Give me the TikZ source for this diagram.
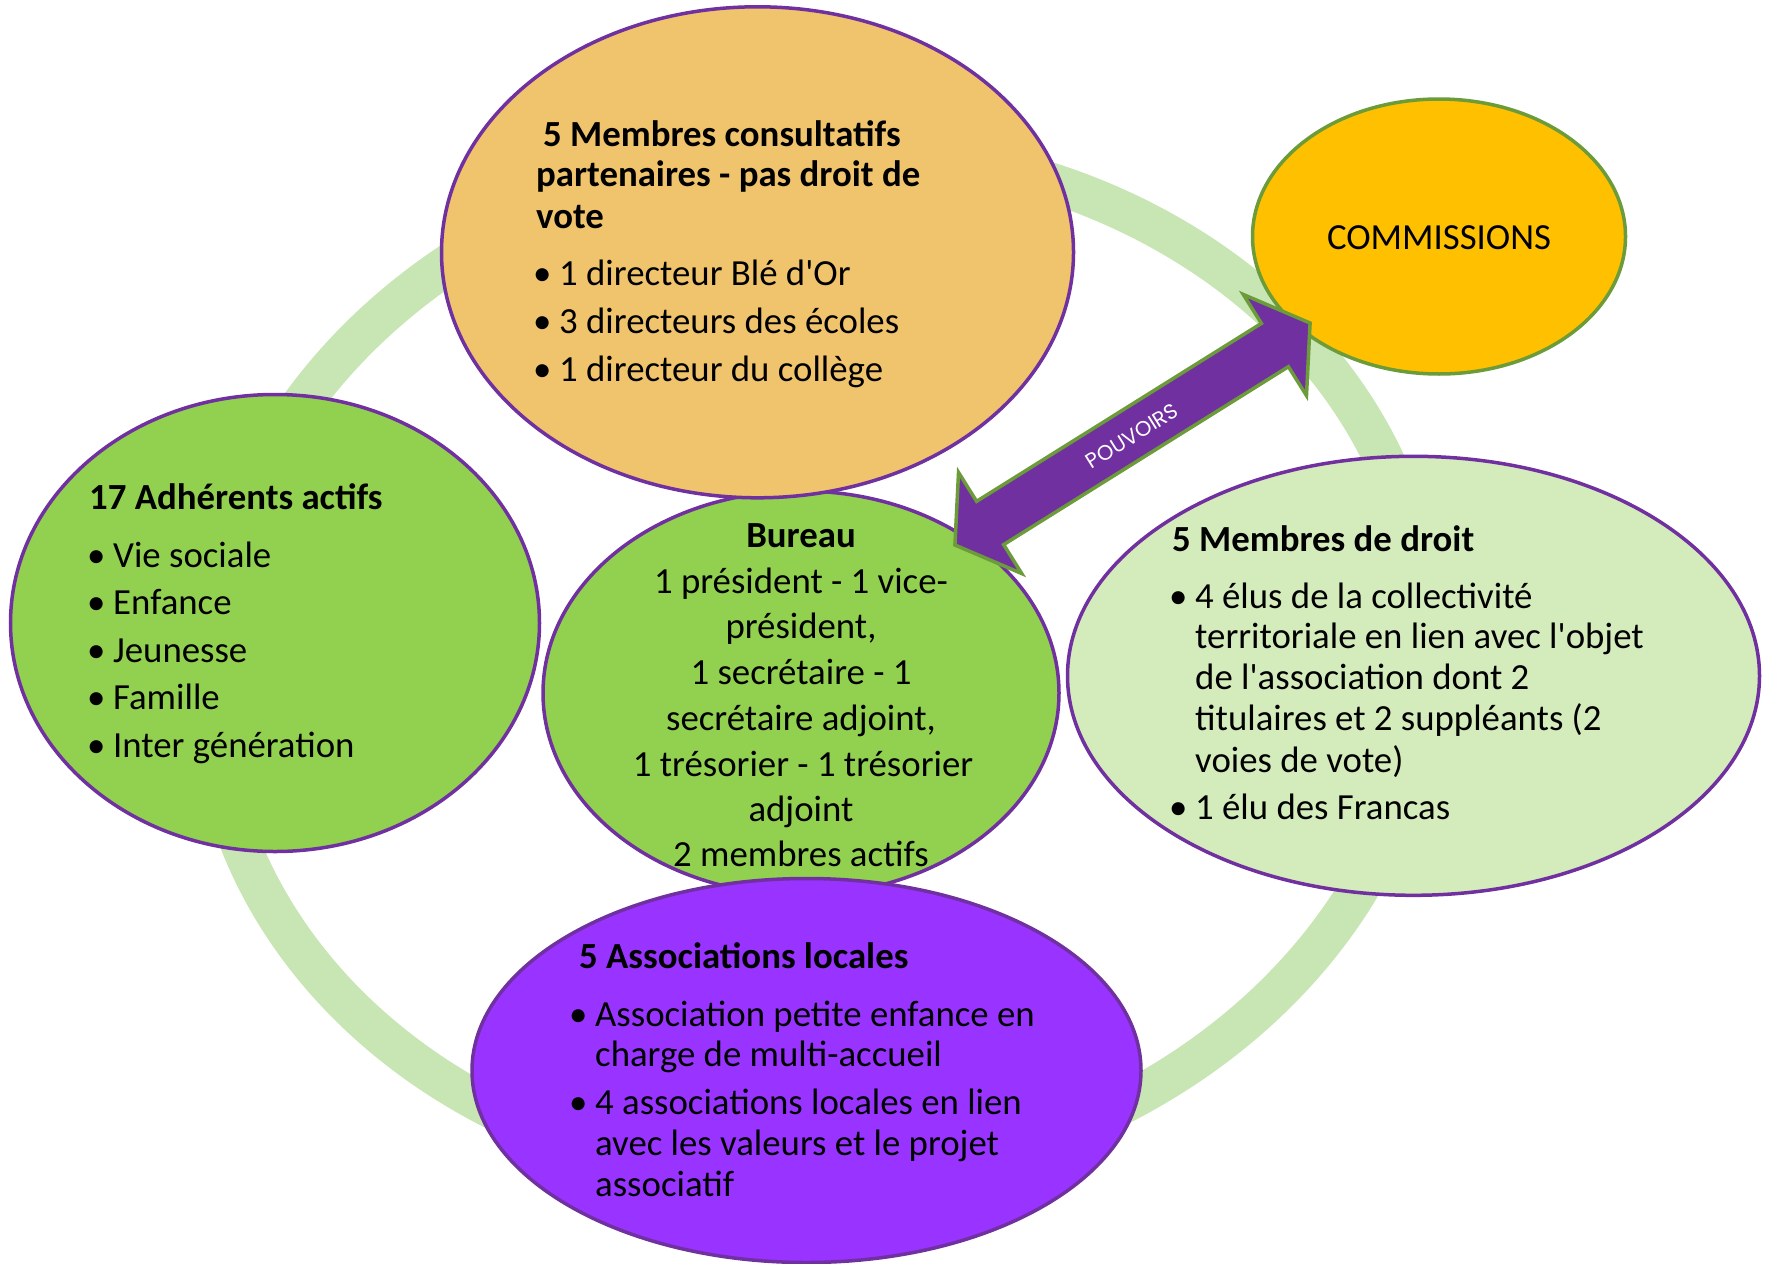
\documentclass[tikz,border=0pt]{standalone}
\usepackage{fontspec}
\setmainfont{Carlito}
\newfontfamily\pouvfont{Poppins}
\usetikzlibrary{shapes.geometric}

\definecolor{ringgreen}{HTML}{C8E5B4}
\definecolor{orangefill}{HTML}{F0C36D}
\definecolor{commfill}{HTML}{FFC000}
\definecolor{greenfill}{HTML}{92D050}
\definecolor{lightfill}{HTML}{D4EBBB}
\definecolor{violetfill}{HTML}{9933FF}
\definecolor{borderpurple}{HTML}{7030A0}
\definecolor{bordergreen}{HTML}{6C9B3A}

\newcommand\bul{\makebox[22pt][l]{\hspace*{-4pt}\textbullet}}
\newcommand\aq{\textquotesingle}

\begin{document}
\begin{tikzpicture}[x=1pt,y=-1pt,
  bubble/.style={ellipse, draw=borderpurple, line width=3.5pt, inner sep=0pt, outer sep=0pt},
  txt/.style={anchor=base west, inner sep=0pt, font=\fontsize{36.8}{44}\selectfont},
  tbold/.style={anchor=base west, inner sep=0pt, font=\fontsize{36.8}{44}\selectfont\bfseries},
  ctxt/.style={anchor=base, inner sep=0pt, font=\fontsize{36.8}{44}\selectfont},
  cbold/.style={anchor=base, inner sep=0pt, font=\fontsize{36.8}{44}\selectfont\bfseries},
  blockarrow/.style={fill=borderpurple, draw=bordergreen, line width=3.5pt, line join=miter},
]
\useasboundingbox (0,0) rectangle (1766,1263);

% ring
\draw[ringgreen, line width=40pt, rotate around={5:(818,665)}]
  (818,665) ellipse [x radius=610, y radius=515];

% bubbles
\node[bubble, fill=greenfill, minimum width=529pt, minimum height=457pt] (adh) at (275,623) {};
\node[bubble, fill=greenfill, minimum width=516pt, minimum height=404pt] (bur) at (801,693) {};
\node[bubble, fill=orangefill, minimum width=632pt, minimum height=491pt] (cons) at (757.5,252.3) {};
\node[bubble, fill=commfill, draw=bordergreen, minimum width=373pt, minimum height=275pt] (comm) at (1439,236.5) {};
\node[bubble, fill=lightfill, minimum width=692pt, minimum height=439pt] (droit) at (1413.5,675.8) {};
\node[bubble, fill=violetfill, minimum width=669pt, minimum height=384pt] (assoc) at (806.5,1070.5) {};

% double block arrow (POUVOIRS)
\begin{scope}[shift={(1132.5,434)}, rotate=32]
  \draw[blockarrow] (-209.4,0) -- (-167.9,-59.6) -- (-167.9,-25.5) -- (167.9,-25.5)
    -- (167.9,-59.6) -- (209.4,0) -- (167.9,59.6) -- (167.9,25.5)
    -- (-167.9,25.5) -- (-167.9,59.6) -- cycle;
\end{scope}
\node[rotate=32, text=white, inner sep=0pt, font=\pouvfont\fontsize{21}{21}\selectfont] (pouv) at (1132,436) {POUVOIRS};

% consultatifs
\node[tbold] (c1) at (543,146) {5 Membres consultatifs};
\node[tbold] (c2) at (536,186) {partenaires - pas droit de};
\node[tbold] (c3) at (536,228) {vote};
\node[txt] (c4) at (537,285) {\bul 1 directeur Blé d\aq Or};
\node[txt] (c5) at (537,333) {\bul 3 directeurs des écoles};
\node[txt] (c6) at (537,381) {\bul 1 directeur du collège};

% commissions
\node[ctxt] (commt) at (1439,249) {COMMISSIONS};

% adherents
\node[tbold] (a1) at (89,509) {17 Adhérents actifs};
\node[txt] (a2) at (91,567) {\bul Vie sociale};
\node[txt] (a3) at (91,614) {\bul Enfance};
\node[txt] (a4) at (91,662) {\bul Jeunesse};
\node[txt] (a5) at (91,709) {\bul Famille};
\node[txt] (a6) at (91,757) {\bul Inter génération};

% bureau
\node[cbold] (b1) at (801,547) {Bureau};
\node[ctxt] (b2) at (801,593) {1 président - 1 vice-};
\node[ctxt] (b3) at (801,638) {président,};
\node[ctxt] (b4) at (801,684) {1 secrétaire - 1};
\node[ctxt] (b5) at (801,730) {secrétaire adjoint,};
\node[ctxt] (b6) at (803,776) {1 trésorier - 1 trésorier};
\node[ctxt] (b7) at (801,821) {adjoint};
\node[ctxt] (b8) at (801,866) {2 membres actifs};

% membres de droit
\node[tbold] (d1) at (1172,551) {5 Membres de droit};
\node[txt] (d2) at (1173,608) {\bul 4 élus de la collectivité};
\node[txt] (d3) at (1195,648) {territoriale en lien avec l\aq objet};
\node[txt] (d4) at (1195,689) {de l\aq association dont 2};
\node[txt] (d5) at (1195,730) {titulaires et 2 suppléants (2};
\node[txt] (d6) at (1195,772) {voies de vote)};
\node[txt] (d7) at (1173,819) {\bul 1 élu des Francas};

% associations
\node[tbold] (s1) at (579,968) {5 Associations locales};
\node[txt] (s2) at (573,1026) {\bul Association petite enfance en};
\node[txt] (s3) at (595,1066) {charge de multi-accueil};
\node[txt] (s4) at (573,1114) {\bul 4 associations locales en lien};
\node[txt] (s5) at (595,1155) {avec les valeurs et le projet};
\node[txt] (s6) at (595,1196) {associatif};
\end{tikzpicture}
\end{document}
